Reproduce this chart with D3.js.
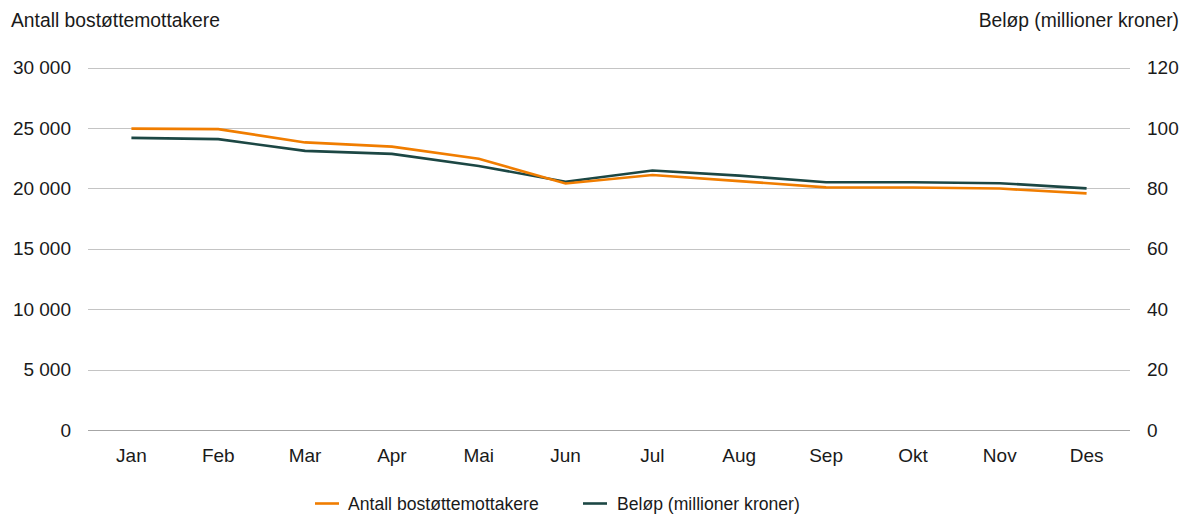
<!DOCTYPE html>
<html><head><meta charset="utf-8">
<script src="https://cdn.jsdelivr.net/npm/d3@7"></script>
<style>body{margin:0;background:#fff;}svg{display:block;font-family:"Liberation Sans",Arial,sans-serif;}</style>
</head><body><svg id="c" width="1186" height="515"></svg>
<script>
const months = ["Jan","Feb","Mar","Apr","Mai","Jun","Jul","Aug","Sep","Okt","Nov","Des"];
const antall = [24940,24900,23800,23450,22450,20400,21100,20600,20080,20070,19980,19580];
const belop = [96.7,96.3,92.4,91.4,87.4,82.2,85.9,84.2,82.0,82.0,81.7,80.0];
const leftTicks = [0,5000,10000,15000,20000,25000,30000];
const rightTicks = [0,20,40,60,80,100,120];
const seriesNames = ["Antall bostøttemottakere","Beløp (millioner kroner)"];
const colors = ["#f07d00","#1c4744"];

const svg = d3.select("#c");
const x0 = 88, x1 = 1130, yTop = 67.5, yBot = 430;
const x = d3.scaleBand().domain(months).range([x0,x1]);
const yL = d3.scaleLinear().domain([0,30000]).range([yBot,yTop]);
const yR = d3.scaleLinear().domain([0,120]).range([yBot,yTop]);
const fmt = d => d3.format(",")(d).replace(/,/g," ");
const FS = 19;

// grid
svg.append("g").selectAll("line").data(leftTicks).join("line")
  .attr("x1",x0).attr("x2",x1).attr("y1",d=>Math.round(yL(d))+0.5).attr("y2",d=>Math.round(yL(d))+0.5)
  .attr("stroke",d=>d===0?"#a6a6a6":"#c4c4c4").attr("stroke-width",1);

// left axis labels
svg.append("g").selectAll("text").data(leftTicks).join("text")
  .attr("x",71).attr("y",d=>yL(d)).attr("dy","0.35em").attr("text-anchor","end")
  .attr("font-size",FS).attr("fill","#1a1a1a").text(fmt);
// right axis labels
svg.append("g").selectAll("text").data(rightTicks).join("text")
  .attr("x",1147).attr("y",d=>yR(d)).attr("dy","0.35em").attr("text-anchor","start")
  .attr("font-size",FS).attr("fill","#1a1a1a").text(d=>d);
// x labels
svg.append("g").selectAll("text").data(months).join("text")
  .attr("x",d=>x(d)+x.bandwidth()/2).attr("y",462).attr("text-anchor","middle")
  .attr("font-size",FS).attr("fill","#1a1a1a").text(d=>d);

// titles
svg.append("text").attr("x",11).attr("y",27).attr("font-size",19.3).attr("fill","#1a1a1a").text(seriesNames[0]);
svg.append("text").attr("x",1179).attr("y",27).attr("text-anchor","end").attr("font-size",19.3).attr("fill","#1a1a1a").text(seriesNames[1]);

const cx = d => x(d)+x.bandwidth()/2;
const lineL = d3.line().x((d,i)=>cx(months[i])).y(d=>yL(d));
const lineR = d3.line().x((d,i)=>cx(months[i])).y(d=>yR(d));
svg.append("path").attr("d",lineR(belop)).attr("fill","none").attr("stroke",colors[1]).attr("stroke-width",2.6);
svg.append("path").attr("d",lineL(antall)).attr("fill","none").attr("stroke",colors[0]).attr("stroke-width",2.6);

// legend
const leg = [{x:315,tx:348},{x:583,tx:617}];
leg.forEach((l,i)=>{
  svg.append("line").attr("x1",l.x).attr("x2",l.x+24).attr("y1",503.5).attr("y2",503.5).attr("stroke",colors[i]).attr("stroke-width",2.6);
  svg.append("text").attr("x",l.tx).attr("y",510).attr("font-size",17.6).attr("fill","#1a1a1a").text(seriesNames[i]);
});
</script></body></html>
